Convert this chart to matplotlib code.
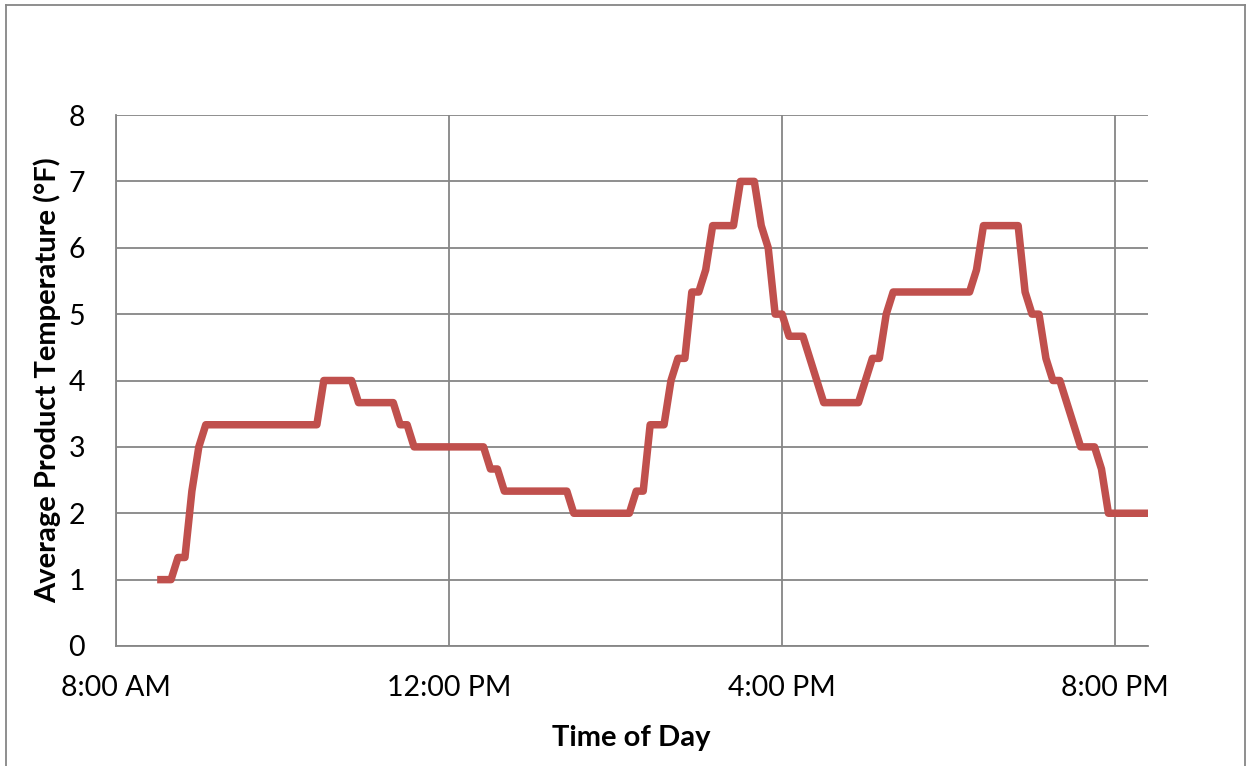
import matplotlib
matplotlib.use("Agg")
import matplotlib.pyplot as plt
from matplotlib.ticker import FixedLocator, FuncFormatter
from matplotlib.lines import Line2D

# Sample times (24h clock) and average product temperature (°F)
times = [
    "8:30", "8:40", "8:45", "8:50", "8:55", "9:00", "9:05", "10:25", "10:30",
    "10:50", "10:55", "11:20", "11:25", "11:30", "11:35", "12:25", "12:30",
    "12:35", "12:40", "13:25", "13:30", "14:10", "14:15", "14:20", "14:25",
    "14:35", "14:40", "14:45", "14:50", "14:55", "15:00", "15:05", "15:10",
    "15:25", "15:30", "15:40", "15:45", "15:50", "15:55", "16:00", "16:05",
    "16:15", "16:20", "16:25", "16:30", "16:55", "17:00", "17:05", "17:10",
    "17:15", "17:20", "18:15", "18:20", "18:25", "18:50", "18:55", "19:00",
    "19:05", "19:10", "19:15", "19:20", "19:25", "19:30", "19:35", "19:45",
    "19:50", "19:55", "20:25",
]
temps = [
    1, 1, 4/3, 4/3, 7/3, 3, 10/3, 10/3, 4,
    4, 11/3, 11/3, 10/3, 10/3, 3, 3, 8/3,
    8/3, 7/3, 7/3, 2, 2, 7/3, 7/3, 10/3,
    10/3, 4, 13/3, 13/3, 16/3, 16/3, 17/3, 19/3,
    19/3, 7, 7, 19/3, 6, 5, 5, 14/3,
    14/3, 13/3, 4, 11/3, 11/3, 4, 13/3, 13/3,
    5, 16/3, 16/3, 17/3, 19/3, 19/3, 16/3, 5,
    5, 13/3, 4, 4, 11/3, 10/3, 3, 3,
    8/3, 2, 2,
]
x_ticks = [8, 12, 16, 20]
x_tick_labels = ["8:00 AM", "12:00 PM", "4:00 PM", "8:00 PM"]
y_ticks = [0, 1, 2, 3, 4, 5, 6, 7, 8]


def to_hours(t):
    h, m = t.split(":")
    return int(h) + int(m) / 60


hours = [to_hours(t) for t in times]

plt.rcParams["font.family"] = ["Lato", "DejaVu Sans"]

W, H = 1254, 766
fig = plt.figure(figsize=(W / 100, H / 100), dpi=100)
ax = fig.add_axes([115.5 / W, 1 - 646 / H, (1148 - 115.5) / W, (646 - 115) / H])

grid_c = "#868686"
fs = 20.5
ax.plot(hours, temps, color="#C0504D", lw=5.4, solid_joinstyle="round",
        solid_capstyle="butt", zorder=3, clip_on=True)

ax.set_xlim(8, 20 + 23.5 / 60)
ax.set_ylim(0, 8)
ax.xaxis.set_major_locator(FixedLocator(x_ticks))
ax.xaxis.set_major_formatter(FuncFormatter(lambda v, p: x_tick_labels[x_ticks.index(round(v))]))
ax.set_yticks(y_ticks)
ax.grid(True, color=grid_c, lw=1.3, zorder=1)
ax.set_axisbelow(True)
for s in ["top", "right"]:
    ax.spines[s].set_visible(False)
for s in ["left", "bottom"]:
    ax.spines[s].set_color(grid_c)
    ax.spines[s].set_linewidth(1.3)
ax.tick_params(axis="both", length=0, labelsize=fs, colors="black")
ax.tick_params(axis="x", pad=21)
ax.tick_params(axis="y", pad=22)

ax.set_xlabel("Time of Day", fontsize=21, fontweight="bold", labelpad=17)
ax.set_ylabel("Average Product Temperature (°F)", fontsize=21, fontweight="bold", labelpad=5.5)

# Outer chart frame
fx0, fx1 = 6 / W, 1245 / W
fy1 = 1 - 5 / H
for xs, ys in [([fx0, fx0], [-0.01, fy1]), ([fx0, fx1], [fy1, fy1]), ([fx1, fx1], [fy1, -0.01])]:
    fig.add_artist(Line2D(xs, ys, transform=fig.transFigure, color=grid_c, lw=1.3))

fig.savefig("out.png", dpi=100, facecolor="white")
